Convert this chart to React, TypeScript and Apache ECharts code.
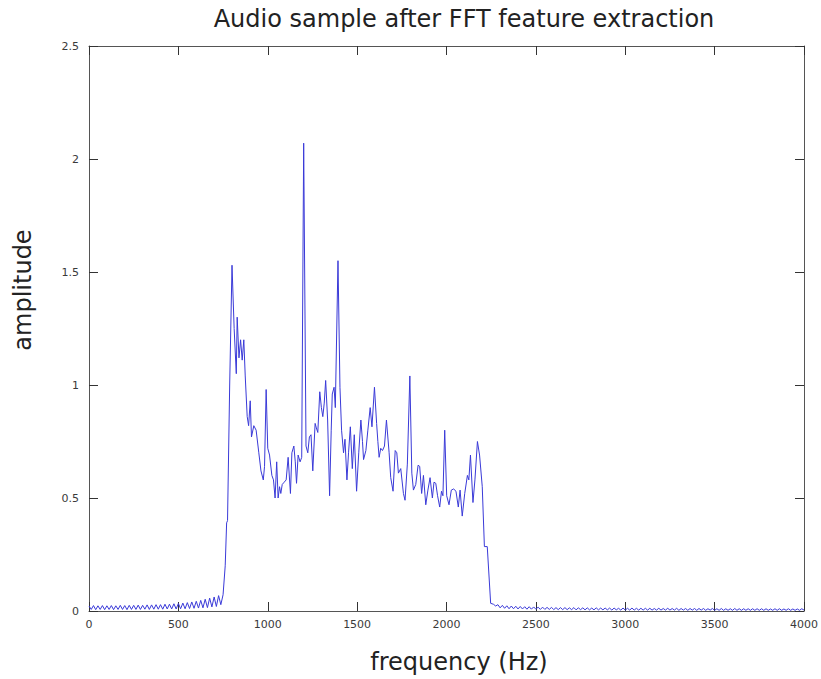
import React, { useEffect, useRef } from "react";
import * as echarts from "echarts";

const TITLE = "Audio sample after FFT feature extraction";
const X_NAME = "frequency (Hz)";
const Y_NAME = "amplitude";

const X_TICKS = { min: 0, max: 4000, interval: 500 };
const Y_TICKS = { min: 0, max: 2.5, interval: 0.5 };

// sample spacing of the spectrum (Hz)
const STEP = 12.5;

// low-frequency leakage ripple, 0 Hz .. 737.5 Hz
const BASE_START = 0;
const baseValues = [
  0.022, 0.007, 0.024, 0.006, 0.023, 0.007, 0.024, 0.006, 0.023, 0.007,
  0.024, 0.006, 0.023, 0.007, 0.025, 0.007, 0.024, 0.006, 0.025, 0.007,
  0.025, 0.007, 0.026, 0.007, 0.025, 0.008, 0.027, 0.007, 0.027, 0.008,
  0.028, 0.008, 0.028, 0.008, 0.03, 0.009, 0.03, 0.009, 0.032, 0.009,
  0.033, 0.01, 0.035, 0.01, 0.037, 0.011, 0.04, 0.012, 0.043, 0.013,
  0.047, 0.014, 0.052, 0.015, 0.057, 0.018, 0.062, 0.02, 0.068, 0.028,
];

// main band, [frequency, amplitude]
const bandFreq = [
  750, 762, 770, 775, 787, 800, 812, 824, 829, 839,
  848, 857, 866, 874, 885, 893, 902, 909, 922, 935,
  950, 962, 975, 982, 991, 1000, 1010, 1023, 1032, 1041,
  1050, 1058, 1066, 1073, 1081, 1092, 1103, 1114, 1127, 1135,
  1146, 1154, 1161, 1170, 1181, 1190, 1201, 1214, 1224, 1233,
  1242, 1252, 1265, 1272, 1280, 1291, 1300, 1308, 1316, 1324,
  1335, 1346, 1355, 1361, 1371, 1378, 1393, 1404, 1413, 1424,
  1432, 1443, 1452, 1462, 1473, 1484, 1497, 1509, 1521, 1530,
  1536, 1549, 1560, 1573, 1583, 1597, 1609, 1616, 1623, 1632,
  1642, 1653, 1664, 1679, 1688, 1701, 1713, 1722, 1731, 1744,
  1759, 1768, 1781, 1795, 1806, 1815, 1828, 1841, 1850, 1861,
  1871, 1884, 1896, 1908, 1921, 1930, 1940, 1950, 1962, 1972,
  1980, 1990, 2001, 2014, 2027, 2040, 2053, 2066, 2076, 2088,
  2102, 2117, 2125, 2134, 2148, 2159, 2173, 2185, 2200, 2212,
  2228, 2247,
];
const bandAmp = [
  0.072, 0.2, 0.39, 0.4, 1.0, 1.53, 1.25, 1.05, 1.3, 1.12,
  1.2, 1.11, 1.2, 1.04, 0.86, 0.82, 0.93, 0.77, 0.82, 0.8,
  0.7, 0.62, 0.58, 0.64, 0.98, 0.72, 0.69, 0.6, 0.58, 0.5,
  0.66, 0.5, 0.55, 0.52, 0.56, 0.57, 0.58, 0.68, 0.52, 0.7,
  0.73, 0.66, 0.565, 0.69, 0.66, 0.68, 2.07, 0.73, 0.7, 0.77,
  0.78, 0.62, 0.83, 0.81, 0.79, 0.97, 0.9, 0.86, 0.92, 1.02,
  0.845, 0.51, 0.8, 0.96, 0.99, 0.9, 1.55, 0.99, 0.8, 0.7,
  0.76, 0.58, 0.7, 0.815, 0.63, 0.78, 0.53, 0.7, 0.845, 0.75,
  0.67, 0.71, 0.8, 0.9, 0.815, 0.99, 0.83, 0.75, 0.68, 0.72,
  0.71, 0.73, 0.845, 0.7, 0.59, 0.53, 0.71, 0.7, 0.61, 0.63,
  0.52, 0.49, 0.65, 1.04, 0.61, 0.535, 0.56, 0.645, 0.64, 0.52,
  0.6, 0.47, 0.535, 0.59, 0.5, 0.57, 0.565, 0.51, 0.46, 0.53,
  0.51, 0.8, 0.51, 0.47, 0.535, 0.54, 0.53, 0.46, 0.535, 0.42,
  0.52, 0.6, 0.58, 0.69, 0.48, 0.58, 0.75, 0.69, 0.55, 0.285,
  0.285, 0.034,
];

// high-frequency ripple, 2262.5 Hz .. 4000 Hz
const TAIL_START = 2262.5;
const tailValues = [
  0.03, 0.022, 0.028, 0.014, 0.025, 0.012, 0.023, 0.01, 0.022, 0.01,
  0.021, 0.009, 0.02, 0.009, 0.019, 0.008, 0.019, 0.008, 0.018, 0.008,
  0.017, 0.007, 0.017, 0.007, 0.016, 0.007, 0.016, 0.006, 0.015, 0.006,
  0.015, 0.006, 0.015, 0.006, 0.014, 0.006, 0.015, 0.005, 0.014, 0.006,
  0.014, 0.005, 0.014, 0.005, 0.013, 0.005, 0.014, 0.005, 0.013, 0.005,
  0.013, 0.005, 0.013, 0.004, 0.013, 0.005, 0.012, 0.004, 0.013, 0.004,
  0.012, 0.004, 0.013, 0.004, 0.012, 0.004, 0.012, 0.004, 0.012, 0.004,
  0.012, 0.004, 0.011, 0.004, 0.012, 0.004, 0.011, 0.004, 0.012, 0.004,
  0.011, 0.004, 0.012, 0.003, 0.011, 0.004, 0.011, 0.003, 0.011, 0.004,
  0.011, 0.003, 0.011, 0.004, 0.011, 0.003, 0.01, 0.004, 0.011, 0.003,
  0.01, 0.003, 0.011, 0.003, 0.01, 0.003, 0.01, 0.003, 0.011, 0.003,
  0.01, 0.003, 0.01, 0.003, 0.01, 0.003, 0.01, 0.003, 0.01, 0.003,
  0.01, 0.003, 0.01, 0.003, 0.009, 0.003, 0.01, 0.003, 0.01, 0.003,
  0.009, 0.003, 0.01, 0.003, 0.009, 0.003, 0.009, 0.003, 0.01, 0.004,
];

const FONT = "DejaVu Sans";
const AXIS_COLOR = "#555";
const TEXT_COLOR = "#222";
const TICK_TEXT_COLOR = "#3a3a3a";
const LINE_COLOR = "#3a3ad8";

export default function App() {
  const ref = useRef<HTMLDivElement>(null);

  useEffect(() => {
    if (!ref.current) return;
    const chart = echarts.init(ref.current, undefined, { renderer: "svg" });

    const data: number[][] = [];
    baseValues.forEach((v, i) => data.push([BASE_START + i * STEP, v]));
    bandFreq.forEach((f, i) => data.push([f, bandAmp[i]]));
    tailValues.forEach((v, i) => data.push([TAIL_START + i * STEP, v]));

    const axisCommon = {
      type: "value" as const,
      splitLine: { show: false },
      axisLine: { show: true, onZero: false, lineStyle: { color: AXIS_COLOR, width: 1 } },
      axisTick: { show: true, inside: true, length: 9, lineStyle: { color: "#333", width: 1 } },
    };

    chart.setOption({
      animation: false,
      backgroundColor: "#ffffff",
      grid: { left: 89, right: 15, top: 46, bottom: 68, containLabel: false },
      xAxis: [
        {
          ...axisCommon,
          ...X_TICKS,
          position: "bottom",
          axisLabel: {
            color: TICK_TEXT_COLOR,
            fontSize: 11,
            fontFamily: FONT,
            margin: 8,
            formatter: (v: number) => String(v),
          },
        },
        {
          ...axisCommon,
          ...X_TICKS,
          position: "top",
          axisLabel: { show: false },
        },
      ],
      yAxis: [
        {
          ...axisCommon,
          ...Y_TICKS,
          position: "left",
          axisLabel: {
            color: TICK_TEXT_COLOR,
            fontSize: 11,
            fontFamily: FONT,
            margin: 10,
            formatter: (v: number) => String(v),
          },
        },
        {
          ...axisCommon,
          ...Y_TICKS,
          position: "right",
          axisLabel: { show: false },
        },
      ],
      series: [
        {
          type: "line",
          xAxisIndex: 0,
          yAxisIndex: 0,
          data,
          showSymbol: false,
          symbol: "none",
          lineStyle: { color: LINE_COLOR, width: 1 },
        },
      ],
      graphic: [
        {
          type: "text",
          x: 464,
          y: 19,
          style: {
            text: TITLE,
            fontFamily: FONT,
            fontSize: 24,
            fill: TEXT_COLOR,
            textAlign: "center",
            textVerticalAlign: "middle",
          },
        },
        {
          type: "text",
          x: 459,
          y: 662,
          style: {
            text: X_NAME,
            fontFamily: FONT,
            fontSize: 24,
            fill: TEXT_COLOR,
            textAlign: "center",
            textVerticalAlign: "middle",
          },
        },
        {
          type: "text",
          x: 23,
          y: 290,
          rotation: Math.PI / 2,
          style: {
            text: Y_NAME,
            fontFamily: FONT,
            fontSize: 24,
            fill: TEXT_COLOR,
            textAlign: "center",
            textVerticalAlign: "middle",
          },
        },
      ],
    });

    return () => chart.dispose();
  }, []);

  return (
    <div
      ref={ref}
      style={{ position: "fixed", left: 0, top: 0, width: 821, height: 679, background: "#fff" }}
    />
  );
}
